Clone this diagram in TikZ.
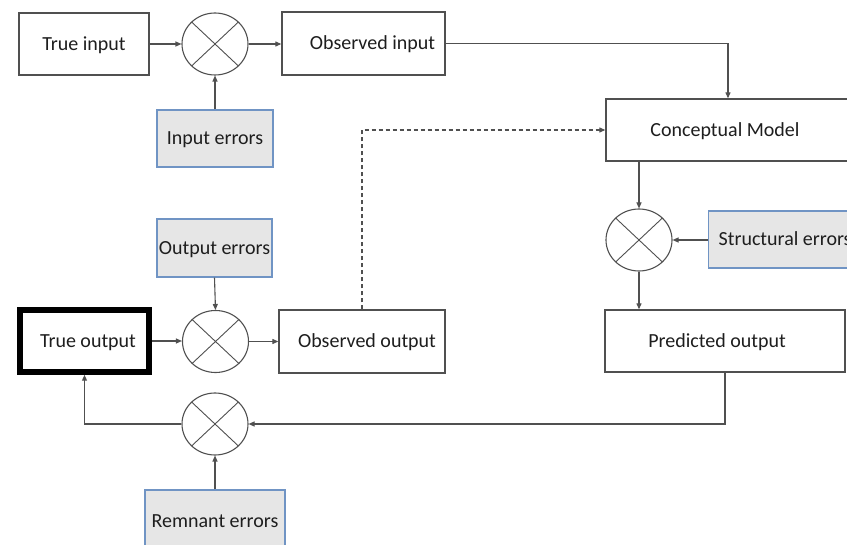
\documentclass[tikz,border=0pt]{standalone}
\usepackage{fontspec}
\setmainfont{Carlito}
\usetikzlibrary{arrows.meta,shapes.geometric}
\definecolor{edge}{HTML}{505050}
\definecolor{ink}{HTML}{1E1E1E}
\definecolor{errfill}{HTML}{E6E6E6}
\definecolor{errline}{HTML}{7094C4}
\tikzset{
  blk/.style={draw=edge, line width=1.3pt, fill=white, inner sep=0pt,
    text=ink, text height=13pt, text depth=0pt,
    font=\fontsize{20}{24}\selectfont},
  errbox/.style={blk, draw=errline, fill=errfill},
  mixer/.style={ellipse, draw=edge, line width=1.1pt, fill=white,
    minimum width=66pt, minimum height=62pt, inner sep=0pt,
    path picture={\draw[edge, line width=0.9pt]
      (path picture bounding box.north west) -- (path picture bounding box.south east)
      (path picture bounding box.north east) -- (path picture bounding box.south west);}},
  flow/.style={draw=edge, line width=1.1pt, -{Triangle[length=6pt,width=5pt]}},
  feedback/.style={flow, dash pattern=on 4pt off 3pt},
}
\begin{document}
\begin{tikzpicture}[x=1pt,y=-1pt]
\clip (0,0) rectangle (847,545);
\fill[white] (0,0) rectangle (847,545);

% input chain
\node[blk, minimum width=130pt, minimum height=62pt] (tin) at (84,44) {True input};
\node[mixer] (s1) at (215,44) {};
\node[blk, minimum width=163pt, minimum height=63pt] (oin) at (363.5,43.5) {\hspace*{18pt}Observed input};
\node[errbox, minimum width=116pt, minimum height=57pt] (ierr) at (215,138.5) {Input errors};

% model chain
\node[blk, minimum width=244pt, minimum height=62pt] (cm) at (728,130) {Conceptual Model\hspace*{6pt}};
\node[mixer] (s2) at (639,240) {};
\node[errbox, anchor=west, inner xsep=10pt, minimum height=57pt] (serr) at (708,239.5) {Structural errors};
\node[blk, minimum width=240pt, minimum height=62pt] (pout) at (725,341) {Predicted output\hspace*{16pt}};

% output chain
\node[errbox, minimum width=115pt, minimum height=58pt] (oerr) at (214.5,248) {Output errors};
\node[blk, draw=black, line width=5.5pt, minimum width=129pt, minimum height=62pt] (tout) at (84.5,341) {\hspace*{7pt}True output};
\node[mixer] (s3) at (215.5,341.5) {};
\node[blk, minimum width=166pt, minimum height=63pt] (oout) at (362,341.5) {\hspace*{10pt}Observed output};
\node[mixer] (s4) at (215,424) {};
\node[errbox, minimum width=140pt, minimum height=62pt] (rerr) at (215,521) {Remnant errors};

% connectors
\draw[flow] (tin.east) -- (s1.west);
\draw[flow] (s1.east) -- (s1.east -| oin.west);
\draw[flow] (ierr.north) -- (s1.south);
\draw[flow] (oin.east) -| (cm.north);
\draw[feedback] (oout.north) |- (cm.west);
\draw[flow] (s2.north |- cm.south) -- (s2.north);
\draw[flow] (serr.west |- s2.east) -- (s2.east);
\draw[flow] (s2.south) -- (s2.south |- pout.north);
\draw[flow] (pout.south) |- (s4.east);
\draw[flow] (rerr.north) -- (s4.south);
\draw[flow] (s4.west) -| (tout.south);
\draw[flow] (tout.east) -- (tout.east -| s3.west);
\draw[flow] (oerr.south) -- (s3.north);
\draw[flow] (s3.east) -- (s3.east -| oout.west);
\end{tikzpicture}
\end{document}
